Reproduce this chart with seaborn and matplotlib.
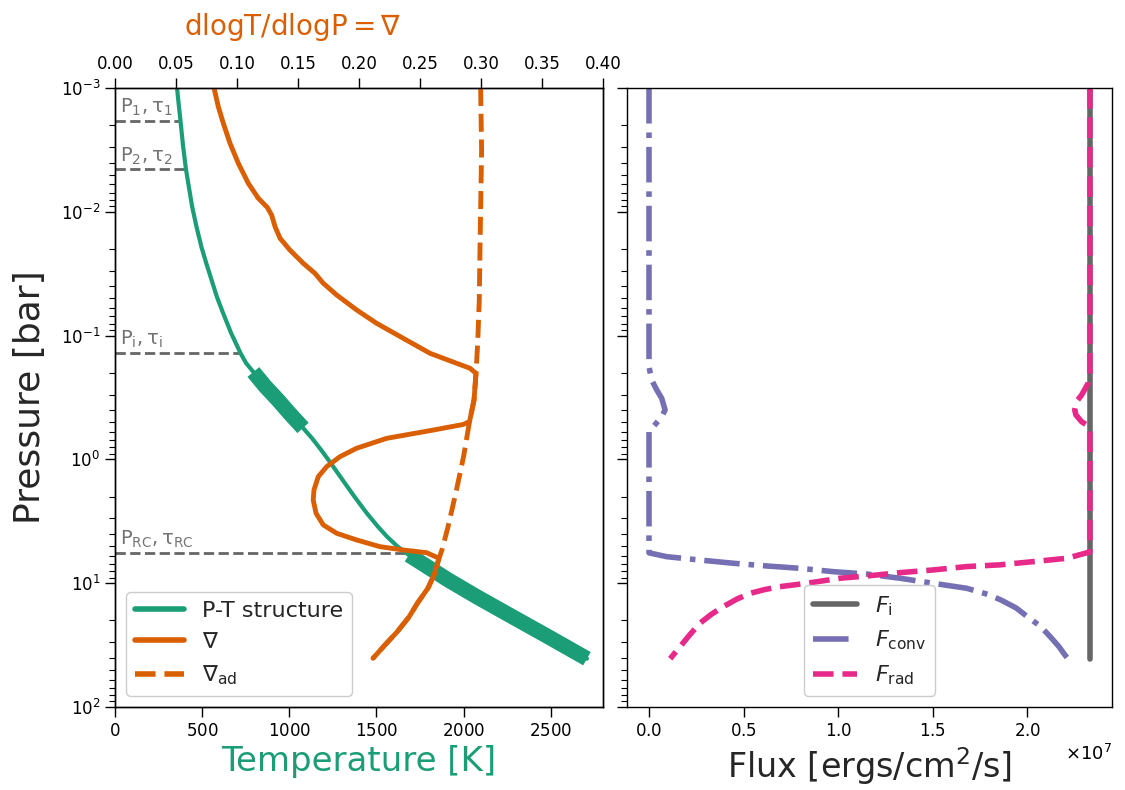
import numpy as np
import matplotlib
matplotlib.use("Agg")
import matplotlib.pyplot as plt
from matplotlib.lines import Line2D
import seaborn as sns

# ---------------------------------------------------------------
# Pressure-temperature structure (log10 of pressure in bar, T in K)
pt_logp = [-3.000, -2.863, -2.733, -2.540, -2.346, -2.192, -2.047, -1.877,
           -1.716, -1.579, -1.450, -1.312, -1.183, -1.021, -0.859, -0.778,
           -0.706, -0.593, -0.480, -0.367, -0.254, -0.170, -0.076, 0.032,
           0.166, 0.301, 0.435, 0.544, 0.624, 0.705, 0.772, 0.974,
           1.109, 1.271, 1.432, 1.61]
pt_temp = [356, 366, 376, 390, 407, 425, 442, 468,
           496, 525, 554, 585, 620, 666, 720, 752,
           794, 860, 935, 1005, 1079, 1131, 1183, 1239,
           1306, 1374, 1445, 1509, 1561, 1622, 1686, 1912,
           2075, 2280, 2485, 2708]
# convective zones (log10 P bounds), drawn as a thick band on the profile
conv_zones = [(-0.706, -0.254), (0.772, 1.61)]

# temperature gradient dlogT/dlogP
grad_logp = [-3.000, -2.849, -2.715, -2.553, -2.392, -2.230, -2.109, -2.036,
             -1.974, -1.880, -1.786, -1.691, -1.584, -1.503, -1.423, -1.328,
             -1.207, -1.099, -0.978, -0.857, -0.776, -0.736, -0.695, -0.480,
             -0.305, -0.282, -0.237, -0.170, -0.090, -0.022, 0.059, 0.140,
             0.247, 0.328, 0.435, 0.529, 0.597, 0.651, 0.705, 0.732,
             0.754, 0.799, 0.934, 1.039, 1.160, 1.273, 1.394, 1.499, 1.607]
grad = [0.0812, 0.0847, 0.0888, 0.0943, 0.1011, 0.1093, 0.1175, 0.1248,
        0.1284, 0.1312, 0.1353, 0.1434, 0.1543, 0.1639, 0.1707, 0.1817,
        0.1981, 0.2145, 0.2363, 0.2582, 0.2801, 0.2910, 0.2959, 0.2943,
        0.2906, 0.2854, 0.2609, 0.2227, 0.1981, 0.1844, 0.1735, 0.1666,
        0.1631, 0.1625, 0.1648, 0.1707, 0.1817, 0.1981, 0.2172, 0.2363,
        0.2555, 0.2656, 0.2615, 0.2566, 0.2480, 0.2410, 0.2312, 0.2213, 0.2115]

# adiabatic gradient
grad_ad_logp = [-3.000, -2.499, -1.716, -1.288, -0.940, -0.695, -0.480, -0.305,
                -0.022, 0.247, 0.544, 0.732, 0.799, 0.934, 1.039, 1.160,
                1.273, 1.394, 1.499, 1.607]
grad_ad = [0.2997, 0.3005, 0.2992, 0.2986, 0.2973, 0.2959, 0.2943, 0.2906,
           0.2857, 0.2799, 0.2730, 0.2680, 0.2656, 0.2615, 0.2566, 0.2480,
           0.2410, 0.2312, 0.2213, 0.2115]

# marked pressure / optical depth levels
level_labels = [r"$\mathrm{P_1, \tau_1}$", r"$\mathrm{P_2, \tau_2}$",
                r"$\mathrm{P_i, \tau_i}$", r"$\mathrm{P_{RC}, \tau_{RC}}$"]
level_logp = [-2.736, -2.343, -0.862, 0.756]

# fluxes in units of 1e7 erg/cm^2/s
fi_logp = [-3.0, 1.61]
fi = [2.33, 2.33]

fconv_logp = [-3.0, -0.750, -0.641, -0.561, -0.494, -0.399, -0.345, -0.264,
              -0.237, 0.755, 0.786, 0.813, 0.839, 0.861, 0.880, 0.907,
              0.926, 0.960, 1.001, 1.041, 1.090, 1.136, 1.200, 1.271,
              1.350, 1.432, 1.510, 1.580, 1.61]
fconv = [0.0, 0.0, 0.014, 0.041, 0.067, 0.085, 0.067, 0.023,
         0.0, 0.0, 0.094, 0.269, 0.445, 0.622, 0.798, 0.974,
         1.150, 1.326, 1.502, 1.678, 1.79, 1.86, 1.94, 2.00,
         2.07, 2.12, 2.165, 2.198, 2.214]

frad_logp = [-3.0, -0.708, -0.615, -0.520, -0.466, -0.399, -0.359, -0.305,
             -0.270, -0.237, 0.748, 0.799, 0.826, 0.852, 0.866, 0.893,
             0.915, 0.942, 0.960, 1.001, 1.028, 1.051, 1.082, 1.128,
             1.190, 1.253, 1.324, 1.414, 1.513, 1.61]
frad = [2.33, 2.33, 2.321, 2.286, 2.259, 2.250, 2.256, 2.286,
        2.321, 2.33, 2.33, 2.207, 2.030, 1.854, 1.678, 1.502,
        1.326, 1.150, 1.009, 0.833, 0.692, 0.613, 0.534, 0.465,
        0.392, 0.328, 0.269, 0.217, 0.164, 0.112]
flux_unit = 1e7

# ---------------------------------------------------------------
sns.set_style("ticks")
plt.rcParams.update({
    "font.family": ["DejaVu Sans"],
    "axes.edgecolor": "black",
    "axes.linewidth": 1.0,
    "xtick.color": "black",
    "ytick.color": "black",
    "xtick.labelsize": 12,
    "ytick.labelsize": 12,
    "xtick.major.size": 7,
    "ytick.major.size": 7,
    "xtick.minor.size": 4,
    "ytick.minor.size": 4,
    "xtick.major.width": 1.0,
    "ytick.major.width": 1.0,
    "xtick.minor.width": 0.8,
    "ytick.minor.width": 0.8,
    "axes.formatter.use_mathtext": True,
})

pal = sns.color_palette("Dark2")
c_green, c_orange, c_purple, c_pink = pal[0], pal[1], pal[2], pal[3]
c_grey = "#666666"

fig = plt.figure(figsize=(11.25, 7.9), dpi=100)
ax = fig.add_axes([0.1022, 0.1051, 0.4338, 0.7835])
axr = fig.add_axes([0.5573, 0.1051, 0.4311, 0.7835])

p_lo, p_hi = 1e-3, 1e2

# ---- left panel: P-T structure ----
ax.set_yscale("log")
ax.set_xlim(0, 2800)
ax.set_ylim(p_hi, p_lo)

pt_T = np.array(pt_temp, float)
pt_P = 10 ** np.array(pt_logp)
sns.lineplot(x=pt_T, y=pt_P, sort=False, estimator=None,
             color=c_green, lw=3, ax=ax)
for lo, hi in conv_zones:
    m = (np.array(pt_logp) >= lo - 1e-6) & (np.array(pt_logp) <= hi + 1e-6)
    sns.lineplot(x=pt_T[m], y=pt_P[m], sort=False, estimator=None,
                 color=c_green, lw=11, solid_capstyle="butt", ax=ax)

# level markers: dashed line from the axis to the profile, with label
for lab, lp in zip(level_labels, level_logp):
    t_at = np.interp(lp, pt_logp, pt_temp)
    ax.plot([0, t_at], [10 ** lp, 10 ** lp], ls="--", lw=2, color=c_grey, zorder=1)
    ax.annotate(lab, xy=(30, 10 ** lp), xytext=(0, 2), textcoords="offset points",
                ha="left", va="bottom", fontsize=14, color="0.45")

ax.set_xticks([0, 500, 1000, 1500, 2000, 2500])
ax.set_xlabel("Temperature [K]", fontsize=24.5, color=c_green)
ax.set_ylabel("Pressure [bar]", fontsize=26, labelpad=10)
ax.tick_params(which="both", right=False, top=False)

# ---- gradient on the top axis ----
axt = ax.twiny()
axt.set_xlim(0, 0.4)
sns.lineplot(x=grad_ad, y=10 ** np.array(grad_ad_logp), sort=False, estimator=None,
             color=c_orange, lw=3.5, linestyle="--", ax=axt)
sns.lineplot(x=grad, y=10 ** np.array(grad_logp), sort=False, estimator=None,
             color=c_orange, lw=3.5, ax=axt)
axt.set_ylim(p_hi, p_lo)
top_ticks = np.arange(0, 0.401, 0.05)
axt.set_xticks(top_ticks)
axt.set_xticklabels([f"{v:.2f}" for v in top_ticks])
axt.set_xlabel(r"$\mathrm{dlogT/dlogP} = \nabla$", fontsize=20, color=c_orange,
               x=0.364, labelpad=15)
axt.tick_params(which="both", right=False)

handles = [Line2D([], [], color=c_green, lw=4),
           Line2D([], [], color=c_orange, lw=4),
           Line2D([], [], color=c_orange, lw=4, ls="--")]
labels = ["P-T structure", r"$\nabla$", r"$\nabla_{\rm ad}$"]
axt.legend(handles, labels, loc="lower left", fontsize=16, framealpha=1,
           handlelength=2.2)

# ---- right panel: fluxes ----
axr.set_yscale("log")
sns.lineplot(x=np.array(fi) * flux_unit, y=10 ** np.array(fi_logp), sort=False,
             estimator=None, color=c_grey, lw=4, ax=axr, label=r"$F_{\rm i}$")
sns.lineplot(x=np.array(fconv) * flux_unit, y=10 ** np.array(fconv_logp), sort=False,
             estimator=None, color=c_purple, lw=4, linestyle="-.", ax=axr,
             label=r"$F_{\rm conv}$")
sns.lineplot(x=np.array(frad) * flux_unit, y=10 ** np.array(frad_logp), sort=False,
             estimator=None, color=c_pink, lw=4, linestyle="--", ax=axr,
             label=r"$F_{\rm rad}$")
axr.set_ylim(p_hi, p_lo)
axr.set_xticks(np.array([0.0, 0.5, 1.0, 1.5, 2.0]) * flux_unit)
axr.ticklabel_format(axis="x", style="sci", scilimits=(0, 0), useMathText=True)
axr.xaxis.get_offset_text().set_fontsize(13)
axr.tick_params(which="both", labelleft=False, right=False, top=False)
axr.set_xlabel(r"Flux [ergs/cm$^2$/s]", fontsize=24)
axr.set_ylabel("")
axr.legend(loc="lower center", fontsize=16, framealpha=1)

fig.savefig("out.png", dpi=100)
